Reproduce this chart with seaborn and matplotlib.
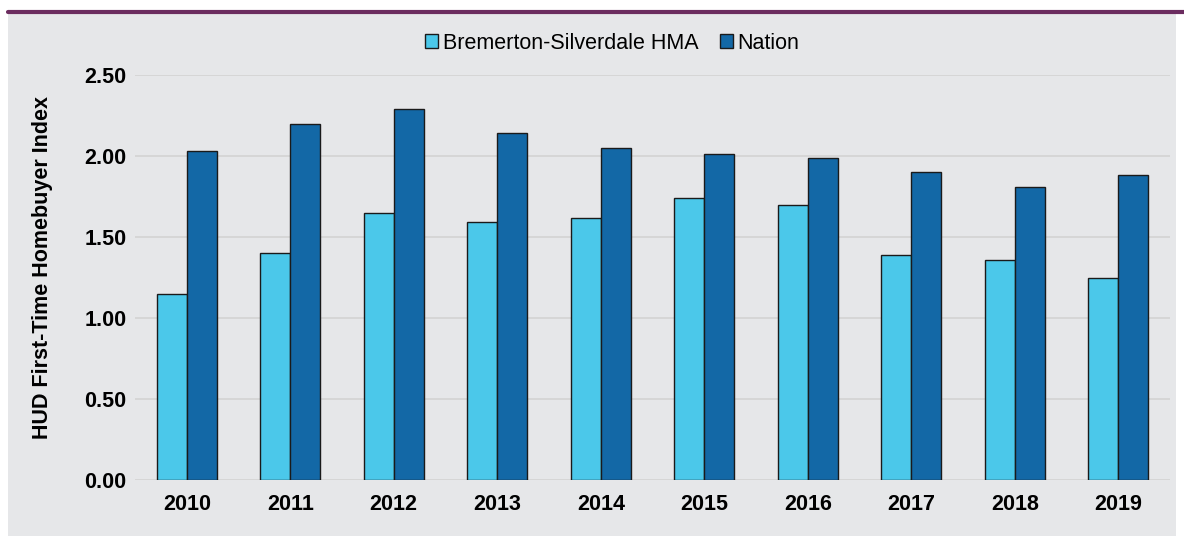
import pandas as pd
import matplotlib
matplotlib.use("Agg")
import matplotlib.pyplot as plt
import seaborn as sns
from matplotlib.patches import Rectangle
from matplotlib.lines import Line2D

# ── Data ──────────────────────────────────────────────────────────────────────
years  = ["2010", "2011", "2012", "2013", "2014", "2015", "2016", "2017", "2018", "2019"]
hma    = [1.15, 1.40, 1.65, 1.59, 1.62, 1.74, 1.70, 1.39, 1.36, 1.25]
nation = [2.03, 2.20, 2.29, 2.14, 2.05, 2.01, 1.99, 1.90, 1.81, 1.88]
series = ["Bremerton-Silverdale HMA", "Nation"]
colors = ["#4BC8EA", "#1368A6"]

df = pd.DataFrame({
    "year":   years * 2,
    "value":  hma + nation,
    "series": [series[0]] * len(years) + [series[1]] * len(years),
})

# ── Figure ────────────────────────────────────────────────────────────────────
sns.set_theme(style="white")
plt.rcParams["font.family"] = ["Liberation Sans", "DejaVu Sans"]
plt.rcParams["text.color"] = "black"
plt.rcParams["axes.labelcolor"] = "black"
plt.rcParams["xtick.color"] = "black"
plt.rcParams["ytick.color"] = "black"

W, H = 1184, 536
fig = plt.figure(figsize=(W / 100, H / 100), dpi=100, facecolor="white")

# grey panel and purple rule at top (drawn behind the axes)
fig.patches.append(Rectangle((8 / W, 0), (1176 - 8) / W, (H - 13) / H,
                             transform=fig.transFigure, facecolor="#E6E7E9",
                             edgecolor="none", zorder=-5))
fig.lines.append(Line2D([8 / W, 1.0], [1 - 11.5 / H, 1 - 11.5 / H],
                        transform=fig.transFigure, color="#6B2C5F", lw=3,
                        zorder=-4))

ax = fig.add_axes([135 / W, (H - 480) / H, (1170 - 135) / W, (480 - 75) / H])
ax.set_facecolor("none")

sns.barplot(data=df, x="year", y="value", hue="series", palette=colors,
            width=0.58, edgecolor="#1a1a1a", linewidth=1.0, saturation=1,
            ax=ax, zorder=3)

ax.set_ylim(0, 2.5)
ax.set_xlim(-0.5, 9.5)
ax.set_yticks([0, 0.5, 1.0, 1.5, 2.0, 2.5])
ax.set_yticklabels([f"{v:.2f}" for v in ax.get_yticks()])
ax.yaxis.grid(True, color="#D3D3D3", lw=1.2, zorder=0)
ax.set_axisbelow(True)
for s in ax.spines.values():
    s.set_visible(False)
ax.tick_params(axis="both", length=0, labelsize=15.5)
ax.tick_params(axis="y", pad=6)
ax.tick_params(axis="x", pad=10)
for lab in ax.get_xticklabels() + ax.get_yticklabels():
    lab.set_fontweight("bold")

ax.set_xlabel("")
ax.set_ylabel("HUD First-Time Homebuyer Index", fontsize=15.5, fontweight="bold")
ax.yaxis.set_label_coords(-0.079, 0.525)

ax.legend(loc="upper center", bbox_to_anchor=(0.461, 1.152), ncol=2,
          frameon=False, fontsize=15.5, handlelength=0.6, handleheight=0.6,
          handletextpad=0.2, columnspacing=1.0)

plt.savefig("out.png", dpi=100, facecolor=fig.get_facecolor())
